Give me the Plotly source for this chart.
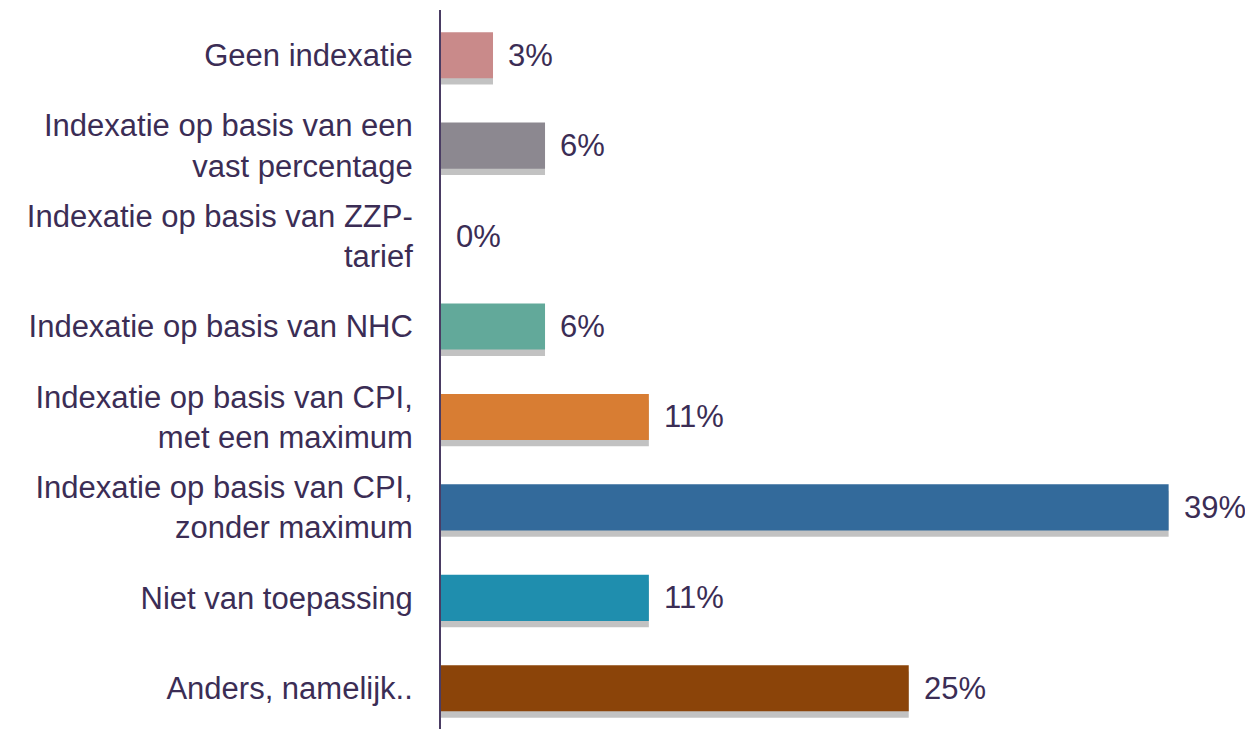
import plotly.graph_objects as go

categories = [
    "Geen indexatie",
    "Indexatie op basis van een<br>vast percentage",
    "Indexatie op basis van ZZP-<br>tarief",
    "Indexatie op basis van NHC",
    "Indexatie op basis van CPI,<br>met een maximum",
    "Indexatie op basis van CPI,<br>zonder maximum",
    "Niet van toepassing",
    "Anders, namelijk..",
]
shares = [2.78, 5.56, 0.0, 5.56, 11.11, 38.89, 11.11, 25.0]
share_labels = ["3%", "6%", "0%", "6%", "11%", "39%", "11%", "25%"]
bar_colors = ["#c98a8a", "#8c8890", "#8c8890", "#62a99a",
              "#d87d33", "#336a9b", "#1f8eae", "#8b4409"]

text_color = "#3b2d55"
bar_width = 0.51

fig = go.Figure()
# soft drop shadow under each bar
fig.add_trace(
    go.Bar(
        y=categories, x=shares, orientation="h",
        width=bar_width, offset=-bar_width / 2 + 0.07,
        marker=dict(color="rgba(0,0,0,0.24)", line_width=0),
        hoverinfo="skip", showlegend=False,
    )
)
fig.add_trace(
    go.Bar(
        y=categories, x=shares, orientation="h",
        width=bar_width,
        marker=dict(color=bar_colors, line_width=0),
        showlegend=False,
    )
)

for cat, val, lab in zip(categories, shares, share_labels):
    fig.add_annotation(
        x=val, y=cat, text=lab, showarrow=False,
        xanchor="left", xshift=13,
        font=dict(size=31, color=text_color),
    )

# page body has an 8px margin, so the figure is sized/offset to fit the window
fig.update_layout(
    width=1245, height=721,
    margin=dict(l=433, r=0, t=2, b=0),
    barmode="overlay",
    plot_bgcolor="white",
    paper_bgcolor="white",
    font=dict(family="Liberation Sans, Arial, sans-serif", size=31, color=text_color),
    xaxis=dict(range=[0, 43.4], visible=False, showgrid=False,
               zeroline=False, automargin=False),
    yaxis=dict(
        type="category",
        categoryorder="array", categoryarray=categories,
        range=[7.45, -0.5],
        automargin=False,
        showgrid=False, zeroline=False,
        showline=True, linecolor="#4a3c63", linewidth=2,
        ticks="", ticklabelstandoff=20,
        tickfont=dict(size=31, color=text_color),
    ),
)

fig.write_html("out.html")
